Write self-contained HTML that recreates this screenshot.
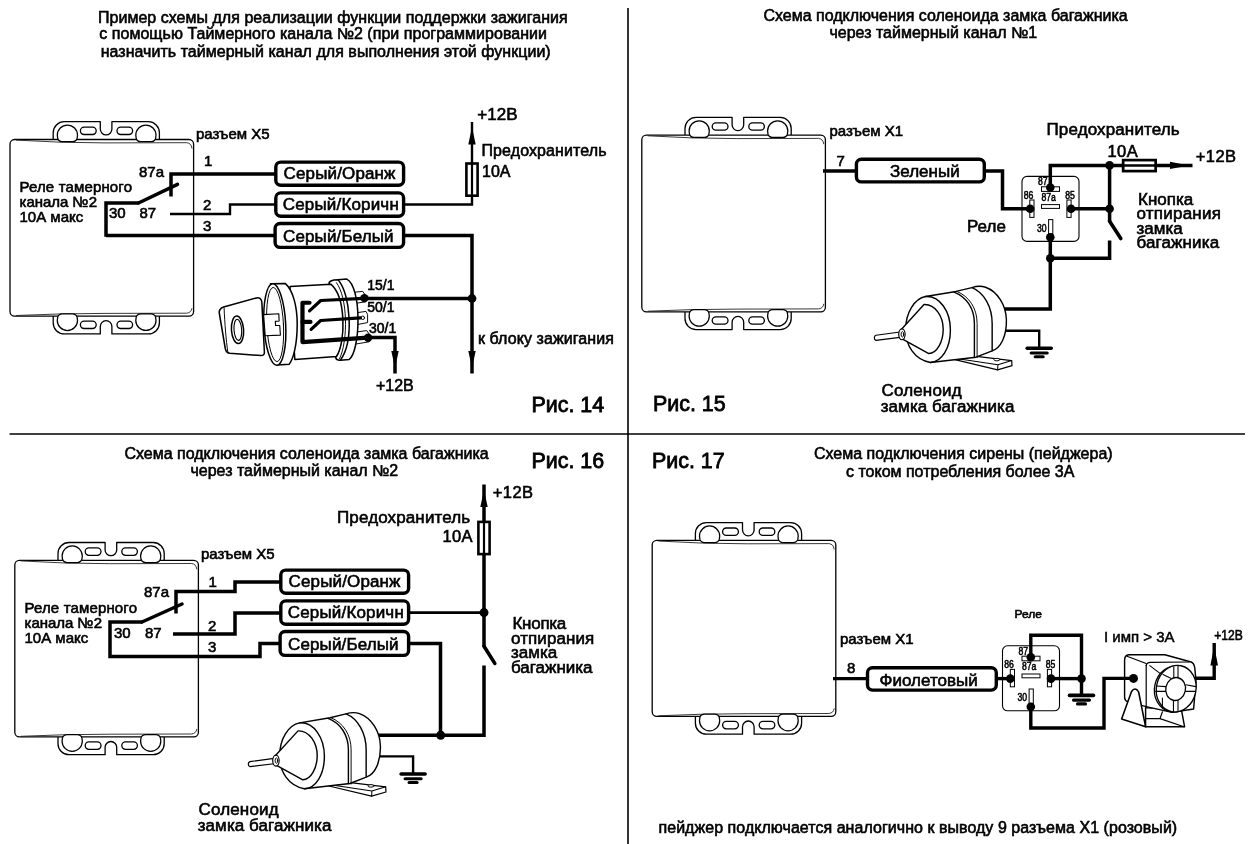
<!DOCTYPE html>
<html lang="ru"><head><meta charset="utf-8"><title>Схемы подключения</title>
<style>html,body{margin:0;padding:0;background:#fff;overflow:hidden}svg{display:block;will-change:transform}text{font-family:"Liberation Sans", sans-serif;fill:#000;white-space:pre}</style></head><body>
<svg width="1250" height="844" viewBox="0 0 1250 844">
<rect width="1250" height="844" fill="#fff"/>
<path d="M628,8 L628,844" fill="none" stroke="#000" stroke-width="1.6" stroke-linejoin="miter" stroke-linecap="butt"/>
<path d="M9.5,434 L1245,434" fill="none" stroke="#000" stroke-width="1.6" stroke-linejoin="miter" stroke-linecap="butt"/>
<g stroke="#000" stroke-width="1.3" fill="#fff" stroke-linejoin="round">
<path d="M53.20,139.50 L53.20,132.70 A11.0,11.0 0 0 1 64.20,121.70 L100.30,121.70 L100.30,129.10 A5.80,5.80 0 0 0 111.90,129.10 L111.90,121.70 L148.40,121.70 A11.0,11.0 0 0 1 159.40,132.70 L159.40,139.50"/>
<rect x="80.40" y="127.10" width="15.80" height="7.40" rx="3.70" ry="3.70"/>
<rect x="117.00" y="127.10" width="15.60" height="7.40" rx="3.70" ry="3.70"/>
<path d="M53.20,316.10 L53.20,322.90 A11.0,11.0 0 0 0 64.20,333.90 L100.30,333.90 L100.30,326.50 A5.80,5.80 0 0 1 111.90,326.50 L111.90,333.90 L148.40,333.90 A11.0,11.0 0 0 0 159.40,322.90 L159.40,316.10"/>
<rect x="80.40" y="321.10" width="15.80" height="7.40" rx="3.70" ry="3.70"/>
<rect x="117.00" y="321.10" width="15.60" height="7.40" rx="3.70" ry="3.70"/>
<rect x="10.00" y="139.50" width="183.60" height="176.60" rx="4.6" ry="4.6"/>
<path d="M16.00,140.10 Q60.00,142.90 105.00,142.90 L186.60,142.70 Q191.40,143.10 192.00,148.50" fill="none" stroke="#222" stroke-width="0.9"/>
<path d="M16.00,315.50 Q60.00,313.40 105.00,313.40 L186.60,313.20 Q191.40,312.70 192.00,308.10" fill="none" stroke="#222" stroke-width="0.9"/>
<path d="M57.70,138.50 L57.30,135.20 A10.10,10.10 0 0 1 77.50,135.20 L77.10,138.50 Q76.00,141.70 72.50,141.70 L62.30,141.70 Q58.80,141.70 57.70,138.50 Z" stroke-width="1.25"/>
<path d="M136.20,138.50 L135.80,135.20 A10.10,10.10 0 0 1 156.00,135.20 L155.60,138.50 Q154.50,141.70 151.00,141.70 L140.80,141.70 Q137.30,141.70 136.20,138.50 Z" stroke-width="1.25"/>
<path d="M57.70,317.10 L57.30,320.40 A10.10,10.10 0 0 0 77.50,320.40 L77.10,317.10 Q76.00,313.90 72.50,313.90 L62.30,313.90 Q58.80,313.90 57.70,317.10 Z" stroke-width="1.25"/>
<path d="M136.20,317.10 L135.80,320.40 A10.10,10.10 0 0 0 156.00,320.40 L155.60,317.10 Q154.50,313.90 151.00,313.90 L140.80,313.90 Q137.30,313.90 136.20,317.10 Z" stroke-width="1.25"/>
</g>
<text transform="translate(98,22.7) scale(1,0.98)" font-size="16" text-anchor="start" stroke="#000" stroke-width="0.6" textLength="469.6" lengthAdjust="spacing">Пример схемы для реализации функции поддержки зажигания</text>
<text transform="translate(99.3,38.8) scale(1,0.98)" font-size="16" text-anchor="start" stroke="#000" stroke-width="0.6" textLength="447.6" lengthAdjust="spacing">с помощью Таймерного канала №2 (при программировании</text>
<text transform="translate(100.7,56.8) scale(1,0.98)" font-size="16" text-anchor="start" stroke="#000" stroke-width="0.6" textLength="450" lengthAdjust="spacing">назначить таймерный канал для выполнения этой функции)</text>
<text transform="translate(196,138.8) scale(1,0.98)" font-size="15" text-anchor="start" stroke="#000" stroke-width="0.6">разъем Х5</text>
<text transform="translate(204,166) scale(1,0.98)" font-size="15" text-anchor="start" stroke="#000" stroke-width="0.6">1</text>
<text transform="translate(203,210) scale(1,0.98)" font-size="15" text-anchor="start" stroke="#000" stroke-width="0.6">2</text>
<text transform="translate(203,231.3) scale(1,0.98)" font-size="15" text-anchor="start" stroke="#000" stroke-width="0.6">3</text>
<text transform="translate(139,176.8) scale(1,0.98)" font-size="15" text-anchor="start" stroke="#000" stroke-width="0.6">87a</text>
<text transform="translate(19.5,192.0) scale(1,0.98)" font-size="15" text-anchor="start" stroke="#000" stroke-width="0.6" textLength="112.5" lengthAdjust="spacing">Реле тамерного</text>
<text transform="translate(19.5,207.0) scale(1,0.98)" font-size="15" text-anchor="start" stroke="#000" stroke-width="0.6">канала №2</text>
<text transform="translate(19.5,221.8) scale(1,0.98)" font-size="15" text-anchor="start" stroke="#000" stroke-width="0.6">10А макс</text>
<text transform="translate(109,218.3) scale(1,0.98)" font-size="15" text-anchor="start" stroke="#000" stroke-width="0.6">30</text>
<text transform="translate(139.5,218.3) scale(1,0.98)" font-size="15" text-anchor="start" stroke="#000" stroke-width="0.6">87</text>
<path d="M171,196.5 L171,174 L275,174" fill="none" stroke="#000" stroke-width="3.5" stroke-linejoin="miter" stroke-linecap="butt"/>
<path d="M106,236.8 L106,203 L139,203" fill="none" stroke="#000" stroke-width="3.5" stroke-linejoin="miter" stroke-linecap="butt"/>
<path d="M138.5,203 L177.5,184.3" fill="none" stroke="#000" stroke-width="3.5" stroke-linejoin="miter" stroke-linecap="round"/>
<path d="M106,235.5 L275,235.5" fill="none" stroke="#000" stroke-width="3.5" stroke-linejoin="miter" stroke-linecap="butt"/>
<path d="M170,214 L230,214 L230,204.5 L275,204.5" fill="none" stroke="#000" stroke-width="2.4" stroke-linejoin="miter" stroke-linecap="butt"/>
<rect x="275.80" y="162.10" width="127.80" height="23.20" rx="5.0" ry="5.0" fill="#fff" stroke="#000" stroke-width="3.4"/>
<text transform="translate(283.6,179.4) scale(1,0.98)" font-size="17" text-anchor="start" stroke="#000" stroke-width="0.6" textLength="111.9" lengthAdjust="spacing">Серый/Оранж</text>
<rect x="275.80" y="192.90" width="127.80" height="23.40" rx="5.0" ry="5.0" fill="#fff" stroke="#000" stroke-width="3.4"/>
<text transform="translate(282.8,210.1) scale(1,0.98)" font-size="17" text-anchor="start" stroke="#000" stroke-width="0.6" textLength="116.0" lengthAdjust="spacing">Серый/Коричн</text>
<rect x="275.10" y="223.50" width="128.50" height="23.90" rx="5.0" ry="5.0" fill="#fff" stroke="#000" stroke-width="3.4"/>
<text transform="translate(283.0,241.5) scale(1,0.98)" font-size="17" text-anchor="start" stroke="#000" stroke-width="0.6" textLength="110.6" lengthAdjust="spacing">Серый/Белый</text>
<path d="M405,204.5 L472,204.5 L472,122" fill="none" stroke="#000" stroke-width="2.4" stroke-linejoin="miter" stroke-linecap="butt"/>
<rect x="466.40000000000003" y="163.5" width="11.200000000000001" height="32.20000000000001" fill="#fff" stroke="#000" stroke-width="2.6"/>
<path d="M472,163 L472,196" fill="none" stroke="#000" stroke-width="2.2" stroke-linejoin="miter" stroke-linecap="butt"/>
<polygon points="472,127 468.3,144.6 475.7,144.6" fill="#000"/>
<text transform="translate(477.3,120.4) scale(1,0.98)" font-size="17" text-anchor="start" stroke="#000" stroke-width="0.6">+12В</text>
<text transform="translate(481.5,155.6) scale(1,0.98)" font-size="16" text-anchor="start" stroke="#000" stroke-width="0.6" textLength="125" lengthAdjust="spacing">Предохранитель</text>
<text transform="translate(482,177) scale(1,0.98)" font-size="16" text-anchor="start" stroke="#000" stroke-width="0.6">10А</text>
<path d="M405,235.5 L472,235.5 L472,373.5" fill="none" stroke="#000" stroke-width="3.5" stroke-linejoin="miter" stroke-linecap="butt"/>
<path d="M366,298.5 L472,298.5" fill="none" stroke="#000" stroke-width="3.5" stroke-linejoin="miter" stroke-linecap="butt"/>
<circle cx="472" cy="298.5" r="4.4" fill="#000"/>
<polygon points="472,368 468.3,351 475.7,351" fill="#000"/>
<path d="M368,337.5 L395,337.5 L395,373.5" fill="none" stroke="#000" stroke-width="3.5" stroke-linejoin="miter" stroke-linecap="butt"/>
<polygon points="395,368 391.3,351 398.7,351" fill="#000"/>
<g transform="translate(210,265) scale(0.16)" fill="#fff" stroke="#000" stroke-width="9.5" stroke-linejoin="round" stroke-linecap="round">
<path d="M905,170 L955,165 L975,195 L975,230 L905,240 Z" stroke-width="6"/>
<path d="M905,300 L975,290 L985,310 L985,360 L905,375 Z" stroke-width="6"/>
<path d="M905,420 L980,410 L1000,440 L995,480 L905,495 Z" stroke-width="6"/>
<path d="M800,92 L855,88 C900,110 925,220 925,340 C925,470 900,570 870,590 L815,595 Z"/>
<path d="M800,92 C760,92 740,105 745,118 C820,180 860,450 785,578 C790,595 800,596 815,595 C900,480 880,180 800,92 Z"/>
<path d="M500,135 L755,120 C850,200 850,480 790,572 L530,590 Z"/>
<path d="M790,110 C860,200 865,470 810,585" fill="none" stroke-width="6"/>
<path d="M378,118 L470,115 C520,160 545,260 545,370 C545,500 520,590 495,620 L420,625 Z"/>
<ellipse cx="405" cy="372" rx="68" ry="255" transform="rotate(-3 405 372)"/>
<ellipse cx="407" cy="372" rx="52" ry="232" transform="rotate(-3 407 372)" stroke-width="6"/>
<path d="M335,310 L430,305 L432,350 L408,352 L410,378 L436,378 L440,438 L345,442 Z" stroke-width="7"/>
<path d="M58,300 C55,280 70,268 85,262 L290,206 C310,202 322,212 324,232 L340,545 C340,560 332,566 320,566 L125,552 C108,550 100,540 96,525 Z"/>
<path d="M88,268 C92,360 100,470 112,548" fill="none" stroke-width="6"/>
<ellipse cx="172" cy="405" rx="38" ry="86" transform="rotate(-4 172 405)"/>
<ellipse cx="174" cy="405" rx="24" ry="66" transform="rotate(-4 174 405)" stroke-width="7"/>
<circle cx="955" cy="330" r="11" stroke-width="6"/>
</g>
<path d="M309.52,302.76 L302.48,302.76 L302.48,342.12 L367.6,337.64" fill="none" stroke="#000" stroke-width="4.2" stroke-linejoin="round" stroke-linecap="round"/>
<path d="M302.48,321.96 L310.48,321.96" fill="none" stroke="#000" stroke-width="4.2" stroke-linejoin="miter" stroke-linecap="round"/>
<path d="M309.52,310.92 L320.72,300.52 L363.6,298.28" fill="none" stroke="#000" stroke-width="3.2" stroke-linejoin="round" stroke-linecap="round"/>
<path d="M311.12,329.32 L320.72,320.52 L360.4,317.8" fill="none" stroke="#000" stroke-width="3.2" stroke-linejoin="round" stroke-linecap="round"/>
<circle cx="364.4" cy="298.12" r="4.2" fill="#000"/>
<circle cx="368.08" cy="337.8" r="4.2" fill="#000"/>
<text transform="translate(367.3,289.6) scale(1,0.98)" font-size="14" text-anchor="start" stroke="#000" stroke-width="0.6">15/1</text>
<text transform="translate(367.3,312.3) scale(1,0.98)" font-size="14" text-anchor="start" stroke="#000" stroke-width="0.6">50/1</text>
<text transform="translate(369.0,332.8) scale(1,0.98)" font-size="14" text-anchor="start" stroke="#000" stroke-width="0.6">30/1</text>
<text transform="translate(376,390.5) scale(1,0.98)" font-size="16" text-anchor="start" stroke="#000" stroke-width="0.6">+12В</text>
<text transform="translate(478,343.5) scale(1,0.98)" font-size="16" text-anchor="start" stroke="#000" stroke-width="0.6" textLength="135.9" lengthAdjust="spacing">к блоку зажигания</text>
<text transform="translate(531.5,411.8) scale(0.952,0.98)" font-size="22.5" text-anchor="start" stroke="#000" stroke-width="0.85">Рис. 14</text>
<g stroke="#000" stroke-width="1.3" fill="#fff" stroke-linejoin="round">
<path d="M685.00,135.20 L685.00,128.40 A11.0,11.0 0 0 1 696.00,117.40 L732.10,117.40 L732.10,124.80 A5.80,5.80 0 0 0 743.70,124.80 L743.70,117.40 L780.20,117.40 A11.0,11.0 0 0 1 791.20,128.40 L791.20,135.20"/>
<rect x="712.20" y="122.80" width="15.80" height="7.40" rx="3.70" ry="3.70"/>
<rect x="748.80" y="122.80" width="15.60" height="7.40" rx="3.70" ry="3.70"/>
<path d="M685.00,311.80 L685.00,318.60 A11.0,11.0 0 0 0 696.00,329.60 L732.10,329.60 L732.10,322.20 A5.80,5.80 0 0 1 743.70,322.20 L743.70,329.60 L780.20,329.60 A11.0,11.0 0 0 0 791.20,318.60 L791.20,311.80"/>
<rect x="712.20" y="316.80" width="15.80" height="7.40" rx="3.70" ry="3.70"/>
<rect x="748.80" y="316.80" width="15.60" height="7.40" rx="3.70" ry="3.70"/>
<rect x="641.80" y="135.20" width="183.60" height="176.60" rx="4.6" ry="4.6"/>
<path d="M647.80,135.80 Q691.80,138.60 736.80,138.60 L818.40,138.40 Q823.20,138.80 823.80,144.20" fill="none" stroke="#222" stroke-width="0.9"/>
<path d="M647.80,311.20 Q691.80,309.10 736.80,309.10 L818.40,308.90 Q823.20,308.40 823.80,303.80" fill="none" stroke="#222" stroke-width="0.9"/>
<path d="M689.50,134.20 L689.10,130.90 A10.10,10.10 0 0 1 709.30,130.90 L708.90,134.20 Q707.80,137.40 704.30,137.40 L694.10,137.40 Q690.60,137.40 689.50,134.20 Z" stroke-width="1.25"/>
<path d="M768.00,134.20 L767.60,130.90 A10.10,10.10 0 0 1 787.80,130.90 L787.40,134.20 Q786.30,137.40 782.80,137.40 L772.60,137.40 Q769.10,137.40 768.00,134.20 Z" stroke-width="1.25"/>
<path d="M689.50,312.80 L689.10,316.10 A10.10,10.10 0 0 0 709.30,316.10 L708.90,312.80 Q707.80,309.60 704.30,309.60 L694.10,309.60 Q690.60,309.60 689.50,312.80 Z" stroke-width="1.25"/>
<path d="M768.00,312.80 L767.60,316.10 A10.10,10.10 0 0 0 787.80,316.10 L787.40,312.80 Q786.30,309.60 782.80,309.60 L772.60,309.60 Q769.10,309.60 768.00,312.80 Z" stroke-width="1.25"/>
</g>
<text transform="translate(763.5,21.3) scale(1,0.98)" font-size="16" text-anchor="start" stroke="#000" stroke-width="0.6">Схема подключения соленоида замка багажника</text>
<text transform="translate(829.5,37.6) scale(1,0.98)" font-size="16" text-anchor="start" stroke="#000" stroke-width="0.6">через таймерный канал №1</text>
<text transform="translate(829.5,136.3) scale(1,0.98)" font-size="15" text-anchor="start" stroke="#000" stroke-width="0.6">разъем Х1</text>
<text transform="translate(836.5,166.3) scale(1,0.98)" font-size="15" text-anchor="start" stroke="#000" stroke-width="0.6">7</text>
<path d="M823,171 L856,171" fill="none" stroke="#000" stroke-width="3.5" stroke-linejoin="miter" stroke-linecap="butt"/>
<rect x="856.40" y="159.30" width="127.90" height="22.60" rx="5.0" ry="5.0" fill="#fff" stroke="#000" stroke-width="3.4"/>
<text transform="translate(890.0,177.2) scale(1,0.98)" font-size="17" text-anchor="start" stroke="#000" stroke-width="0.6">Зеленый</text>
<rect x="1022" y="176.4" width="57" height="65" rx="5" ry="5" fill="#fff" stroke="#000" stroke-width="1.1"/>
<g fill="#fff" stroke="#000" stroke-width="1">
<rect x="1041.5" y="186.8" width="18" height="4.6"/>
<rect x="1041.5" y="204.6" width="18" height="3.8"/>
<rect x="1029.8" y="200.0" width="4.2" height="17.4"/>
<rect x="1066.9" y="200.0" width="4.2" height="17.4"/>
<rect x="1048.6" y="219.60000000000002" width="4.2" height="14.4"/>
</g>
<text transform="translate(1038.0,185.20000000000002) scale(0.8,0.98)" font-size="10.8" text-anchor="start" stroke="#000" stroke-width="0.55">87</text>
<text transform="translate(1041.5,200.8) scale(0.8,0.98)" font-size="10.8" text-anchor="start" stroke="#000" stroke-width="0.55">87a</text>
<text transform="translate(1023.8,198.70000000000002) scale(0.8,0.98)" font-size="10.8" text-anchor="start" stroke="#000" stroke-width="0.55">86</text>
<text transform="translate(1065.3,198.70000000000002) scale(0.8,0.98)" font-size="10.8" text-anchor="start" stroke="#000" stroke-width="0.55">85</text>
<text transform="translate(1037.0,232.0) scale(0.8,0.98)" font-size="10.8" text-anchor="start" stroke="#000" stroke-width="0.55">30</text>
<path d="M985.5,171 L1002.5,171 L1002.5,208.7 L1030,208.7" fill="none" stroke="#000" stroke-width="3.5" stroke-linejoin="miter" stroke-linecap="butt"/>
<path d="M1050.3,187.5 L1050.3,165.4 L1192.5,165.4" fill="none" stroke="#000" stroke-width="3.5" stroke-linejoin="miter" stroke-linecap="butt"/>
<path d="M1109.6,165.4 L1109.6,222" fill="none" stroke="#000" stroke-width="3.5" stroke-linejoin="miter" stroke-linecap="butt"/>
<path d="M1109.6,221.2 L1120.8,238.5" fill="none" stroke="#000" stroke-width="3.6" stroke-linejoin="miter" stroke-linecap="round"/>
<path d="M1071,208.8 L1109.6,208.8" fill="none" stroke="#000" stroke-width="3.5" stroke-linejoin="miter" stroke-linecap="butt"/>
<path d="M1109.6,240.5 L1109.6,258.3 L1050.3,258.3" fill="none" stroke="#000" stroke-width="3.5" stroke-linejoin="miter" stroke-linecap="butt"/>
<path d="M1050.3,237 L1050.3,309 L1003,309" fill="none" stroke="#000" stroke-width="3.5" stroke-linejoin="miter" stroke-linecap="butt"/>
<circle cx="1050.3" cy="187.5" r="4.3" fill="#000"/>
<circle cx="1030.2" cy="208.8" r="4.3" fill="#000"/>
<circle cx="1071" cy="208.8" r="4.3" fill="#000"/>
<circle cx="1050.3" cy="237.2" r="4.3" fill="#000"/>
<circle cx="1109.6" cy="165.4" r="4.3" fill="#000"/>
<circle cx="1109.6" cy="208.8" r="4.3" fill="#000"/>
<circle cx="1050.3" cy="258.3" r="4.3" fill="#000"/>
<rect x="1123.1499999999999" y="160.1" width="32.50000000000004" height="11.0" fill="#fff" stroke="#000" stroke-width="2.7"/>
<path d="M1123,165.5 L1156,165.5" fill="none" stroke="#000" stroke-width="2.3" stroke-linejoin="miter" stroke-linecap="butt"/>
<polygon points="1189,165.4 1170,161.70000000000002 1170,169.1" fill="#000"/>
<text transform="translate(1195.8,162.3) scale(1,0.98)" font-size="16.5" text-anchor="start" stroke="#000" stroke-width="0.6" textLength="40.2" lengthAdjust="spacing">+12В</text>
<text transform="translate(1107.5,156.9) scale(1,0.98)" font-size="16.5" text-anchor="start" stroke="#000" stroke-width="0.6" textLength="30.2" lengthAdjust="spacing">10А</text>
<text transform="translate(1046.5,135.4) scale(1,0.98)" font-size="17" text-anchor="start" stroke="#000" stroke-width="0.6" textLength="133.2" lengthAdjust="spacing">Предохранитель</text>
<text transform="translate(967,232.2) scale(1,0.98)" font-size="17" text-anchor="start" stroke="#000" stroke-width="0.6">Реле</text>
<text transform="translate(1138,204.5) scale(1,0.98)" font-size="17" text-anchor="start" stroke="#000" stroke-width="0.6">Кнопка</text>
<text transform="translate(1136.5,219) scale(1,0.98)" font-size="17" text-anchor="start" stroke="#000" stroke-width="0.6" textLength="84.4" lengthAdjust="spacing">отпирания</text>
<text transform="translate(1136.5,233.6) scale(1,0.98)" font-size="17" text-anchor="start" stroke="#000" stroke-width="0.6">замка</text>
<text transform="translate(1136.5,247.8) scale(1,0.98)" font-size="17" text-anchor="start" stroke="#000" stroke-width="0.6" textLength="82.6" lengthAdjust="spacing">багажника</text>
<path d="M1003,330.7 L1039.2,330.7 L1039.2,348" fill="none" stroke="#000" stroke-width="2.4" stroke-linejoin="miter" stroke-linecap="butt"/>
<path d="M1027.2,348.3 L1051.2,348.3" fill="none" stroke="#000" stroke-width="3.6" stroke-linejoin="miter" stroke-linecap="round"/>
<path d="M1031.2,353.0 L1047.2,353.0" fill="none" stroke="#000" stroke-width="3.1" stroke-linejoin="miter" stroke-linecap="round"/>
<path d="M1035.2,356.8 L1043.2,356.8" fill="none" stroke="#000" stroke-width="3.1" stroke-linejoin="miter" stroke-linecap="round"/>
<g transform="translate(860,270) scale(0.16)" fill="#fff" stroke="#000" stroke-width="8.8" stroke-linejoin="round" stroke-linecap="round">
<path d="M560,550 L715,538 L948,566 L950,598 L860,624 L600,562 Z" stroke-width="7.5"/>
<path d="M948,566 L862,592 L860,624 M862,592 L612,554" fill="none" stroke-width="6.5"/>
<ellipse cx="856" cy="560" rx="19" ry="8" stroke-width="6"/>
<path d="M700,110 C730,100 760,100 785,108 C860,135 912,220 915,310 C918,410 880,490 826,505 L700,500 Z"/>
<path d="M410,166 L600,134 L700,110 C775,140 826,230 826,335 L826,505 L725,545 L440,578 C340,560 285,470 285,375 C285,265 340,180 410,166 Z"/>
<path d="M588,138 C665,168 715,240 715,335 L715,546" fill="none"/>
<path d="M606,134 C683,165 732,240 732,335 L732,548" fill="none" stroke-width="6"/>
<path d="M410,166 C500,160 565,260 565,375 C565,490 510,575 440,578" fill="none"/>
<path d="M258,372 L400,216 C470,213 520,290 520,370 C520,450 480,520 430,522 L266,432 Z"/>
<path d="M262,386 L100,408 C86,412 86,436 100,440 L262,420 Z" stroke-width="7.5"/>
<ellipse cx="262" cy="402" rx="20" ry="34" stroke-width="7.5"/>
<ellipse cx="265" cy="402" rx="8" ry="17" stroke-width="6"/>
</g>
<text transform="translate(881.5,395.5) scale(1,0.98)" font-size="17" text-anchor="start" stroke="#000" stroke-width="0.6" textLength="80.1" lengthAdjust="spacing">Соленоид</text>
<text transform="translate(880.7,412) scale(1,0.98)" font-size="17" text-anchor="start" stroke="#000" stroke-width="0.6" textLength="133.7" lengthAdjust="spacing">замка багажника</text>
<text transform="translate(653,411.2) scale(0.952,0.98)" font-size="22.5" text-anchor="start" stroke="#000" stroke-width="0.85">Рис. 15</text>
<g stroke="#000" stroke-width="1.3" fill="#fff" stroke-linejoin="round">
<path d="M58.00,560.30 L58.00,553.50 A11.0,11.0 0 0 1 69.00,542.50 L105.10,542.50 L105.10,549.90 A5.80,5.80 0 0 0 116.70,549.90 L116.70,542.50 L153.20,542.50 A11.0,11.0 0 0 1 164.20,553.50 L164.20,560.30"/>
<rect x="85.20" y="547.90" width="15.80" height="7.40" rx="3.70" ry="3.70"/>
<rect x="121.80" y="547.90" width="15.60" height="7.40" rx="3.70" ry="3.70"/>
<path d="M58.00,736.90 L58.00,743.70 A11.0,11.0 0 0 0 69.00,754.70 L105.10,754.70 L105.10,747.30 A5.80,5.80 0 0 1 116.70,747.30 L116.70,754.70 L153.20,754.70 A11.0,11.0 0 0 0 164.20,743.70 L164.20,736.90"/>
<rect x="85.20" y="741.90" width="15.80" height="7.40" rx="3.70" ry="3.70"/>
<rect x="121.80" y="741.90" width="15.60" height="7.40" rx="3.70" ry="3.70"/>
<rect x="14.80" y="560.30" width="183.60" height="176.60" rx="4.6" ry="4.6"/>
<path d="M20.80,560.90 Q64.80,563.70 109.80,563.70 L191.40,563.50 Q196.20,563.90 196.80,569.30" fill="none" stroke="#222" stroke-width="0.9"/>
<path d="M20.80,736.30 Q64.80,734.20 109.80,734.20 L191.40,734.00 Q196.20,733.50 196.80,728.90" fill="none" stroke="#222" stroke-width="0.9"/>
<path d="M62.50,559.30 L62.10,556.00 A10.10,10.10 0 0 1 82.30,556.00 L81.90,559.30 Q80.80,562.50 77.30,562.50 L67.10,562.50 Q63.60,562.50 62.50,559.30 Z" stroke-width="1.25"/>
<path d="M141.00,559.30 L140.60,556.00 A10.10,10.10 0 0 1 160.80,556.00 L160.40,559.30 Q159.30,562.50 155.80,562.50 L145.60,562.50 Q142.10,562.50 141.00,559.30 Z" stroke-width="1.25"/>
<path d="M62.50,737.90 L62.10,741.20 A10.10,10.10 0 0 0 82.30,741.20 L81.90,737.90 Q80.80,734.70 77.30,734.70 L67.10,734.70 Q63.60,734.70 62.50,737.90 Z" stroke-width="1.25"/>
<path d="M141.00,737.90 L140.60,741.20 A10.10,10.10 0 0 0 160.80,741.20 L160.40,737.90 Q159.30,734.70 155.80,734.70 L145.60,734.70 Q142.10,734.70 141.00,737.90 Z" stroke-width="1.25"/>
</g>
<text transform="translate(124.5,459) scale(1,0.98)" font-size="16" text-anchor="start" stroke="#000" stroke-width="0.6">Схема подключения соленоида замка багажника</text>
<text transform="translate(190.5,475.8) scale(1,0.98)" font-size="16" text-anchor="start" stroke="#000" stroke-width="0.6">через таймерный канал №2</text>
<text transform="translate(531.5,468.3) scale(0.952,0.98)" font-size="22.5" text-anchor="start" stroke="#000" stroke-width="0.85">Рис. 16</text>
<text transform="translate(201,559) scale(1,0.98)" font-size="15" text-anchor="start" stroke="#000" stroke-width="0.6">разъем Х5</text>
<text transform="translate(208.5,587) scale(1,0.98)" font-size="15" text-anchor="start" stroke="#000" stroke-width="0.6">1</text>
<text transform="translate(208,630.8) scale(1,0.98)" font-size="15" text-anchor="start" stroke="#000" stroke-width="0.6">2</text>
<text transform="translate(208,651.8) scale(1,0.98)" font-size="15" text-anchor="start" stroke="#000" stroke-width="0.6">3</text>
<text transform="translate(144,597) scale(1,0.98)" font-size="15" text-anchor="start" stroke="#000" stroke-width="0.6">87a</text>
<text transform="translate(24.5,612.8) scale(1,0.98)" font-size="15" text-anchor="start" stroke="#000" stroke-width="0.6" textLength="112.5" lengthAdjust="spacing">Реле тамерного</text>
<text transform="translate(24.5,627.6) scale(1,0.98)" font-size="15" text-anchor="start" stroke="#000" stroke-width="0.6">канала №2</text>
<text transform="translate(24.5,643) scale(1,0.98)" font-size="15" text-anchor="start" stroke="#000" stroke-width="0.6">10А макс</text>
<text transform="translate(114,638) scale(1,0.98)" font-size="15" text-anchor="start" stroke="#000" stroke-width="0.6">30</text>
<text transform="translate(145,638) scale(1,0.98)" font-size="15" text-anchor="start" stroke="#000" stroke-width="0.6">87</text>
<path d="M176,613.5 L176,591.5 L235,591.5 L235,582 L281,582" fill="none" stroke="#000" stroke-width="3.5" stroke-linejoin="miter" stroke-linecap="butt"/>
<path d="M142.5,622 L110,622 L110,656.4 L260,656.4 L260,643.6 L281,643.6" fill="none" stroke="#000" stroke-width="3.5" stroke-linejoin="miter" stroke-linecap="butt"/>
<path d="M142,622 L182,604" fill="none" stroke="#000" stroke-width="3.5" stroke-linejoin="miter" stroke-linecap="round"/>
<path d="M173,634 L235,634 L235,613 L281,613" fill="none" stroke="#000" stroke-width="3.5" stroke-linejoin="miter" stroke-linecap="butt"/>
<rect x="280.80" y="570.10" width="127.80" height="23.20" rx="5.0" ry="5.0" fill="#fff" stroke="#000" stroke-width="3.4"/>
<text transform="translate(288.6,587.4) scale(1,0.98)" font-size="17" text-anchor="start" stroke="#000" stroke-width="0.6" textLength="111.9" lengthAdjust="spacing">Серый/Оранж</text>
<rect x="280.80" y="600.90" width="127.80" height="23.40" rx="5.0" ry="5.0" fill="#fff" stroke="#000" stroke-width="3.4"/>
<text transform="translate(287.8,618.1) scale(1,0.98)" font-size="17" text-anchor="start" stroke="#000" stroke-width="0.6" textLength="116.0" lengthAdjust="spacing">Серый/Коричн</text>
<rect x="280.10" y="631.50" width="128.50" height="23.90" rx="5.0" ry="5.0" fill="#fff" stroke="#000" stroke-width="3.4"/>
<text transform="translate(288.0,649.5) scale(1,0.98)" font-size="17" text-anchor="start" stroke="#000" stroke-width="0.6" textLength="110.6" lengthAdjust="spacing">Серый/Белый</text>
<path d="M410,612.6 L484,612.6" fill="none" stroke="#000" stroke-width="2.8" stroke-linejoin="miter" stroke-linecap="butt"/>
<path d="M484,484.5 L484,647" fill="none" stroke="#000" stroke-width="3.5" stroke-linejoin="miter" stroke-linecap="butt"/>
<path d="M484,646.3 L494.8,663.4" fill="none" stroke="#000" stroke-width="3.6" stroke-linejoin="miter" stroke-linecap="round"/>
<path d="M484,665.5 L484,735.2 L378,735.2" fill="none" stroke="#000" stroke-width="3.5" stroke-linejoin="miter" stroke-linecap="butt"/>
<path d="M410,643.5 L440.5,643.5 L440.5,735.2" fill="none" stroke="#000" stroke-width="3.5" stroke-linejoin="miter" stroke-linecap="butt"/>
<circle cx="484" cy="612.6" r="4.5" fill="#000"/>
<circle cx="440.7" cy="735.2" r="4.5" fill="#000"/>
<rect x="478.40000000000003" y="521.9" width="11.200000000000001" height="32.19999999999995" fill="#fff" stroke="#000" stroke-width="2.6"/>
<path d="M484,521 L484,555" fill="none" stroke="#000" stroke-width="2.2" stroke-linejoin="miter" stroke-linecap="butt"/>
<polygon points="484,490 480.3,507 487.7,507" fill="#000"/>
<text transform="translate(492.8,498.3) scale(1,0.98)" font-size="16.5" text-anchor="start" stroke="#000" stroke-width="0.6" textLength="40.2" lengthAdjust="spacing">+12В</text>
<text transform="translate(337,523.4) scale(1,0.98)" font-size="17" text-anchor="start" stroke="#000" stroke-width="0.6" textLength="133.2" lengthAdjust="spacing">Предохранитель</text>
<text transform="translate(442.5,542.2) scale(1,0.98)" font-size="16.5" text-anchor="start" stroke="#000" stroke-width="0.6" textLength="30.0" lengthAdjust="spacing">10А</text>
<text transform="translate(512.5,629) scale(1,0.98)" font-size="17" text-anchor="start" stroke="#000" stroke-width="0.6" textLength="53.8" lengthAdjust="spacing">Кнопка</text>
<text transform="translate(511,643.8) scale(1,0.98)" font-size="17" text-anchor="start" stroke="#000" stroke-width="0.6" textLength="83.3" lengthAdjust="spacing">отпирания</text>
<text transform="translate(511,658.2) scale(1,0.98)" font-size="17" text-anchor="start" stroke="#000" stroke-width="0.6">замка</text>
<text transform="translate(511,672.6) scale(1,0.98)" font-size="17" text-anchor="start" stroke="#000" stroke-width="0.6" textLength="81.5" lengthAdjust="spacing">багажника</text>
<path d="M377,756.4 L413.1,756.4 L413.1,774" fill="none" stroke="#000" stroke-width="2.4" stroke-linejoin="miter" stroke-linecap="butt"/>
<path d="M401.1,774.0 L425.1,774.0" fill="none" stroke="#000" stroke-width="3.6" stroke-linejoin="miter" stroke-linecap="round"/>
<path d="M405.1,778.7 L421.1,778.7" fill="none" stroke="#000" stroke-width="3.1" stroke-linejoin="miter" stroke-linecap="round"/>
<path d="M409.1,782.5 L417.1,782.5" fill="none" stroke="#000" stroke-width="3.1" stroke-linejoin="miter" stroke-linecap="round"/>
<g transform="translate(234,696.3) scale(0.16)" fill="#fff" stroke="#000" stroke-width="8.8" stroke-linejoin="round" stroke-linecap="round">
<path d="M560,550 L715,538 L948,566 L950,598 L860,624 L600,562 Z" stroke-width="7.5"/>
<path d="M948,566 L862,592 L860,624 M862,592 L612,554" fill="none" stroke-width="6.5"/>
<ellipse cx="856" cy="560" rx="19" ry="8" stroke-width="6"/>
<path d="M700,110 C730,100 760,100 785,108 C860,135 912,220 915,310 C918,410 880,490 826,505 L700,500 Z"/>
<path d="M410,166 L600,134 L700,110 C775,140 826,230 826,335 L826,505 L725,545 L440,578 C340,560 285,470 285,375 C285,265 340,180 410,166 Z"/>
<path d="M588,138 C665,168 715,240 715,335 L715,546" fill="none"/>
<path d="M606,134 C683,165 732,240 732,335 L732,548" fill="none" stroke-width="6"/>
<path d="M410,166 C500,160 565,260 565,375 C565,490 510,575 440,578" fill="none"/>
<path d="M258,372 L400,216 C470,213 520,290 520,370 C520,450 480,520 430,522 L266,432 Z"/>
<path d="M262,386 L100,408 C86,412 86,436 100,440 L262,420 Z" stroke-width="7.5"/>
<ellipse cx="262" cy="402" rx="20" ry="34" stroke-width="7.5"/>
<ellipse cx="265" cy="402" rx="8" ry="17" stroke-width="6"/>
</g>
<text transform="translate(198.5,814.8) scale(1,0.98)" font-size="17" text-anchor="start" stroke="#000" stroke-width="0.6" textLength="80.1" lengthAdjust="spacing">Соленоид</text>
<text transform="translate(197.7,831) scale(1,0.98)" font-size="17" text-anchor="start" stroke="#000" stroke-width="0.6" textLength="133.7" lengthAdjust="spacing">замка багажника</text>
<g stroke="#000" stroke-width="1.3" fill="#fff" stroke-linejoin="round">
<path d="M695.40,540.40 L695.40,533.60 A11.0,11.0 0 0 1 706.40,522.60 L742.50,522.60 L742.50,530.00 A5.80,5.80 0 0 0 754.10,530.00 L754.10,522.60 L790.60,522.60 A11.0,11.0 0 0 1 801.60,533.60 L801.60,540.40"/>
<rect x="722.60" y="528.00" width="15.80" height="7.40" rx="3.70" ry="3.70"/>
<rect x="759.20" y="528.00" width="15.60" height="7.40" rx="3.70" ry="3.70"/>
<path d="M695.40,716.40 L695.40,723.20 A11.0,11.0 0 0 0 706.40,734.20 L742.50,734.20 L742.50,726.80 A5.80,5.80 0 0 1 754.10,726.80 L754.10,734.20 L790.60,734.20 A11.0,11.0 0 0 0 801.60,723.20 L801.60,716.40"/>
<rect x="722.60" y="721.40" width="15.80" height="7.40" rx="3.70" ry="3.70"/>
<rect x="759.20" y="721.40" width="15.60" height="7.40" rx="3.70" ry="3.70"/>
<rect x="652.20" y="540.40" width="183.60" height="176.00" rx="4.6" ry="4.6"/>
<path d="M658.20,541.00 Q702.20,543.80 747.20,543.80 L828.80,543.60 Q833.60,544.00 834.20,549.40" fill="none" stroke="#222" stroke-width="0.9"/>
<path d="M658.20,715.80 Q702.20,713.70 747.20,713.70 L828.80,713.50 Q833.60,713.00 834.20,708.40" fill="none" stroke="#222" stroke-width="0.9"/>
<path d="M699.90,539.40 L699.50,536.10 A10.10,10.10 0 0 1 719.70,536.10 L719.30,539.40 Q718.20,542.60 714.70,542.60 L704.50,542.60 Q701.00,542.60 699.90,539.40 Z" stroke-width="1.25"/>
<path d="M778.40,539.40 L778.00,536.10 A10.10,10.10 0 0 1 798.20,536.10 L797.80,539.40 Q796.70,542.60 793.20,542.60 L783.00,542.60 Q779.50,542.60 778.40,539.40 Z" stroke-width="1.25"/>
<path d="M699.90,717.40 L699.50,720.70 A10.10,10.10 0 0 0 719.70,720.70 L719.30,717.40 Q718.20,714.20 714.70,714.20 L704.50,714.20 Q701.00,714.20 699.90,717.40 Z" stroke-width="1.25"/>
<path d="M778.40,717.40 L778.00,720.70 A10.10,10.10 0 0 0 798.20,720.70 L797.80,717.40 Q796.70,714.20 793.20,714.20 L783.00,714.20 Q779.50,714.20 778.40,717.40 Z" stroke-width="1.25"/>
</g>
<text transform="translate(652,467.6) scale(0.952,0.98)" font-size="22.5" text-anchor="start" stroke="#000" stroke-width="0.85">Рис. 17</text>
<text transform="translate(814,459) scale(1,0.98)" font-size="16" text-anchor="start" stroke="#000" stroke-width="0.6">Схема подключения сирены (пейджера)</text>
<text transform="translate(846,476.6) scale(1,0.98)" font-size="16" text-anchor="start" stroke="#000" stroke-width="0.6">с током потребления более 3А</text>
<text transform="translate(1014.5,617.5) scale(1,0.98)" font-size="12" text-anchor="start" stroke="#000" stroke-width="0.6">Реле</text>
<text transform="translate(840,643.5) scale(1,0.98)" font-size="15" text-anchor="start" stroke="#000" stroke-width="0.6">разъем Х1</text>
<text transform="translate(847,673) scale(1,0.98)" font-size="15" text-anchor="start" stroke="#000" stroke-width="0.6">8</text>
<g transform="translate(1100,650) scale(0.12)" fill="#fff" stroke="#000" stroke-width="12" stroke-linejoin="round" stroke-linecap="round">
<path d="M380,480 L680,505 L705,640 L380,640 Z"/>
<path d="M380,572 L500,572 L520,515 M500,572 L700,640" fill="none" stroke-width="10"/>
<path d="M205,85 C205,55 215,42 240,40 L540,40 L760,100 C780,108 786,125 790,150 L800,260 L780,492 L600,520 L385,472 L230,430 C210,420 205,410 205,395 Z"/>
<path d="M225,52 L385,112 M385,125 L385,470" fill="none" stroke-width="10"/>
<path d="M385,130 C388,110 400,104 420,103 L745,100" fill="none" stroke-width="10"/>
<path d="M415,130 L500,195" fill="none" stroke-width="9"/>
<ellipse cx="622" cy="325" rx="168" ry="192" transform="rotate(12 622 325)" stroke-width="11"/>
<ellipse cx="635" cy="322" rx="165" ry="195" transform="rotate(12 635 322)" stroke-width="11"/>
<path d="M615,140 L615,235 M650,135 L650,232 M612,420 L612,512 M650,415 L650,505 M470,300 L548,305 M465,345 L548,345 M715,290 L798,305 M715,345 L795,345 M525,205 L590,235 M520,400 L520,480" fill="none" stroke-width="9"/>
<ellipse cx="630" cy="325" rx="82" ry="96" transform="rotate(12 630 325)" stroke-width="11"/>
<path d="M180,575 L262,348 C280,318 305,318 322,350 L380,640 Z" stroke-width="13"/>
</g>
<path d="M833,678.6 L867,678.6" fill="none" stroke="#000" stroke-width="3.4" stroke-linejoin="miter" stroke-linecap="butt"/>
<rect x="867.50" y="667.70" width="128.80" height="22.40" rx="5.0" ry="5.0" fill="#fff" stroke="#000" stroke-width="3.4"/>
<text transform="translate(879.6,685.6) scale(1,0.98)" font-size="17" text-anchor="start" stroke="#000" stroke-width="0.6">Фиолетовый</text>
<rect x="1002.5" y="645.8" width="57" height="65" rx="5" ry="5" fill="#fff" stroke="#000" stroke-width="1.1"/>
<g fill="#fff" stroke="#000" stroke-width="1">
<rect x="1022.0" y="656.1999999999999" width="18" height="4.6"/>
<rect x="1022.0" y="674.0" width="18" height="3.8"/>
<rect x="1010.3" y="669.4" width="4.2" height="17.4"/>
<rect x="1047.4" y="669.4" width="4.2" height="17.4"/>
<rect x="1029.1" y="689.0" width="4.2" height="14.4"/>
</g>
<text transform="translate(1018.5,654.5999999999999) scale(0.8,0.98)" font-size="10.8" text-anchor="start" stroke="#000" stroke-width="0.55">87</text>
<text transform="translate(1022.0,670.1999999999999) scale(0.8,0.98)" font-size="10.8" text-anchor="start" stroke="#000" stroke-width="0.55">87a</text>
<text transform="translate(1004.3,668.0999999999999) scale(0.8,0.98)" font-size="10.8" text-anchor="start" stroke="#000" stroke-width="0.55">86</text>
<text transform="translate(1045.8,668.0999999999999) scale(0.8,0.98)" font-size="10.8" text-anchor="start" stroke="#000" stroke-width="0.55">85</text>
<text transform="translate(1017.5,701.4) scale(0.8,0.98)" font-size="10.8" text-anchor="start" stroke="#000" stroke-width="0.55">30</text>
<path d="M997.5,678.6 L1010,678.6" fill="none" stroke="#000" stroke-width="3.4" stroke-linejoin="miter" stroke-linecap="butt"/>
<path d="M1030.8,657 L1030.8,635.2 L1081.5,635.2 L1081.5,695" fill="none" stroke="#000" stroke-width="3.4" stroke-linejoin="miter" stroke-linecap="butt"/>
<path d="M1051,678.6 L1081.5,678.6" fill="none" stroke="#000" stroke-width="3.4" stroke-linejoin="miter" stroke-linecap="butt"/>
<path d="M1030.8,707 L1030.8,728 L1104,728 L1104,678.4 L1133,678.4" fill="none" stroke="#000" stroke-width="3.4" stroke-linejoin="miter" stroke-linecap="butt"/>
<circle cx="1030.8" cy="657.2" r="4.3" fill="#000"/>
<circle cx="1010.3" cy="678.6" r="4.3" fill="#000"/>
<circle cx="1051" cy="678.6" r="4.3" fill="#000"/>
<circle cx="1030.8" cy="706.8" r="4.3" fill="#000"/>
<circle cx="1081.5" cy="678.6" r="4.3" fill="#000"/>
<path d="M1069.5,695.4 L1093.5,695.4" fill="none" stroke="#000" stroke-width="3.6" stroke-linejoin="miter" stroke-linecap="round"/>
<path d="M1073.5,700.1 L1089.5,700.1" fill="none" stroke="#000" stroke-width="3.1" stroke-linejoin="miter" stroke-linecap="round"/>
<path d="M1077.5,703.9 L1085.5,703.9" fill="none" stroke="#000" stroke-width="3.1" stroke-linejoin="miter" stroke-linecap="round"/>
<circle cx="1133.5" cy="678.4" r="4.5" fill="#000"/>
<path d="M1195,678.2 L1214.2,678.2 L1214.2,643" fill="none" stroke="#000" stroke-width="3.4" stroke-linejoin="miter" stroke-linecap="butt"/>
<polygon points="1214.2,646 1210.4,665.6 1218.0,665.6" fill="#000"/>
<text transform="translate(1104,641.5) scale(1,0.98)" font-size="15" text-anchor="start" stroke="#000" stroke-width="0.5">I имп &gt; 3А</text>
<text transform="translate(1214.3,640.2) scale(0.85,0.98)" font-size="14.2" text-anchor="start" stroke="#000" stroke-width="0.6">+12В</text>
<text transform="translate(658.5,833) scale(1,0.98)" font-size="16" text-anchor="start" stroke="#000" stroke-width="0.6" textLength="518.7" lengthAdjust="spacing">пейджер подключается аналогично к выводу 9 разъема Х1 (розовый)</text>
</svg></body></html>
